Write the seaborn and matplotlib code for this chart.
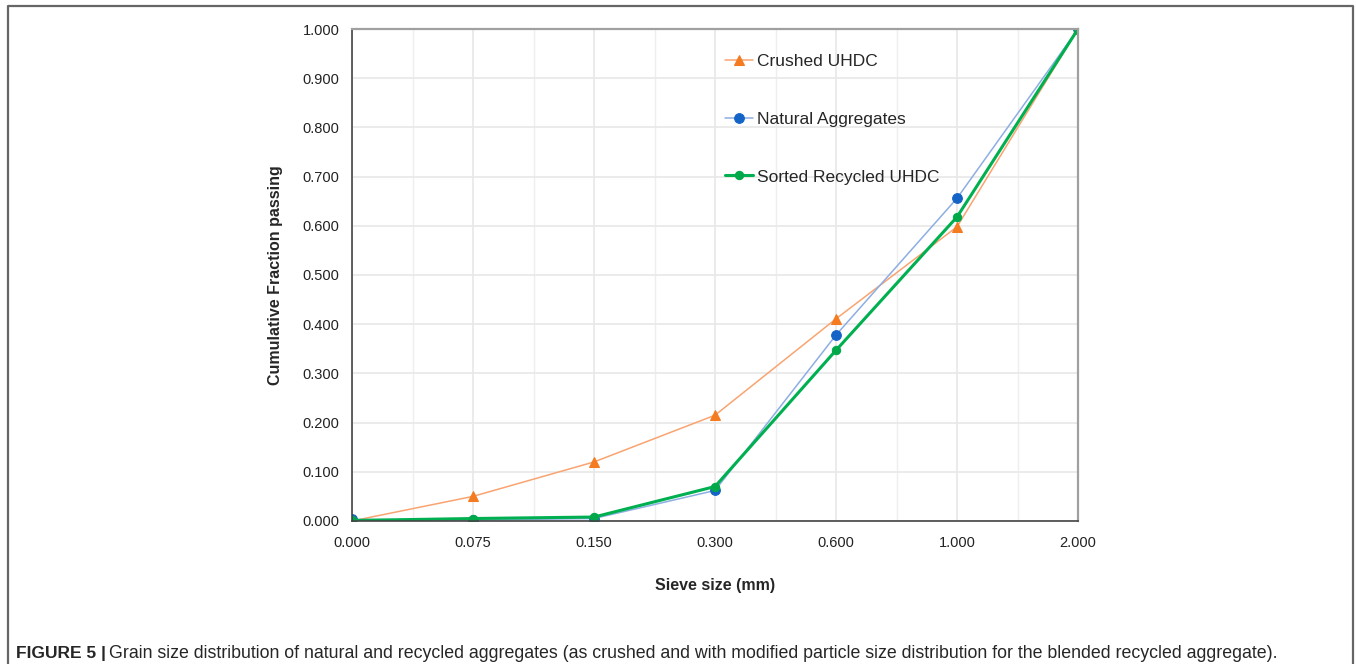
import matplotlib
matplotlib.use("Agg")
import matplotlib.pyplot as plt
import seaborn as sns
import numpy as np
from matplotlib.lines import Line2D

# sieve sizes (categorical axis) and cumulative fraction passing
sieve = ["0.000", "0.075", "0.150", "0.300", "0.600", "1.000", "2.000"]
crushed = [0.000, 0.050, 0.120, 0.215, 0.411, 0.598, 1.000]
natural = [0.003, 0.002, 0.005, 0.062, 0.378, 0.656, 1.000]
sorted_rec = [0.001, 0.005, 0.008, 0.070, 0.347, 0.618, 1.000]

sns.set_style("white")
plt.rcParams["font.family"] = ["Liberation Sans", "DejaVu Sans"]

fig = plt.figure(figsize=(13.56, 6.64), dpi=100)
ax = fig.add_axes([0.2596, 0.2154, 0.5354, 0.7409])

sns.lineplot(x=sieve, y=crushed, ax=ax, color="#F9A470", lw=1.1, marker="^",
             markersize=7, markerfacecolor="#F47B20", markeredgecolor="#F47B20",
             sort=False, label="Crushed UHDC")
sns.lineplot(x=sieve, y=natural, ax=ax, color="#8DAEE3", lw=1.1, marker="o",
             markersize=7, markerfacecolor="#1463C6", markeredgecolor="#1463C6",
             sort=False, label="Natural Aggregates")
sns.lineplot(x=sieve, y=sorted_rec, ax=ax, color="#00B050", lw=2.2, marker="o",
             markersize=6, markerfacecolor="#00A84A", markeredgecolor="#00A84A",
             sort=False, label="Sorted Recycled UHDC")

ax.set_xlim(0, 6)
ax.set_ylim(0, 1.0)
ax.set_yticks(np.arange(0, 1.01, 0.1))
ax.set_yticklabels([f"{v:.3f}" for v in np.arange(0, 1.01, 0.1)])
ax.set_xticks(range(len(sieve)))
ax.set_xticklabels(sieve)
ax.set_xticks(np.arange(0.5, 6, 1), minor=True)

ax.grid(True, which="major", color="#E8E8E8", lw=1.2)
ax.grid(True, which="minor", axis="x", color="#EEEEEE", lw=1.0)
ax.set_axisbelow(True)

for s in ["left", "bottom"]:
    ax.spines[s].set_color("#444444")
    ax.spines[s].set_linewidth(1.2)
for s in ["top", "right"]:
    ax.spines[s].set_color("#A0A0A0")
    ax.spines[s].set_linewidth(1.6)

ax.tick_params(axis="both", which="major", direction="out", length=5, width=1,
               color="#444444", labelsize=10.5, labelcolor="#222222", pad=4)
ax.tick_params(axis="x", which="minor", length=0)
ax.tick_params(axis="x", pad=6)

ax.set_xlabel("Sieve size (mm)", fontsize=11.5, fontweight="bold", labelpad=20)
ax.set_ylabel("Cumulative Fraction passing", fontsize=11.5, fontweight="bold", labelpad=14)

leg = ax.legend(loc="upper left", bbox_to_anchor=(0.492, 0.981), frameon=False,
                fontsize=12.5, labelspacing=2.45, handlelength=1.6, handletextpad=0.25)

# figure frame
fig.add_artist(Line2D([0.006, 0.006, 0.9975, 0.9975], [0.0, 0.991, 0.991, 0.0],
                      transform=fig.transFigure, color="#666666", lw=1.6))

# caption
cap_bold = fig.text(0.012, 0.009, "FIGURE 5 |", fontsize=12.5, fontweight="bold")
fig.canvas.draw()
bb = cap_bold.get_window_extent(fig.canvas.get_renderer())
x0 = (bb.x1 + 3) / fig.bbox.width
fig.text(x0, 0.009, "Grain size distribution of natural and recycled aggregates "
         "(as crushed and with modified particle size distribution for the blended recycled aggregate).",
         fontsize=12.8)

fig.savefig("out.png", dpi=100)
